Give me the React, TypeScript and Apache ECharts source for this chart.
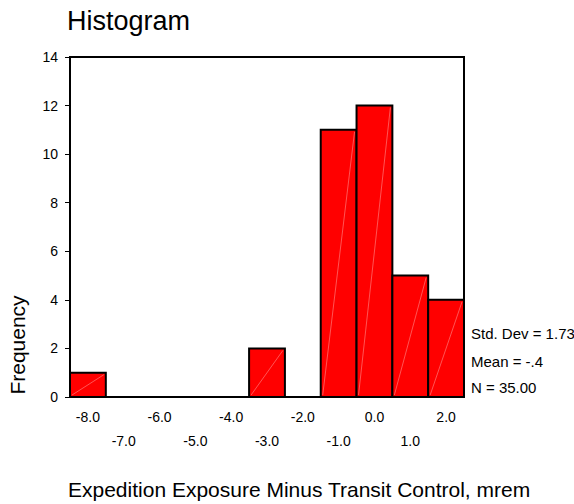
import React, { useEffect, useRef } from "react";
import * as echarts from "echarts";

const binLabels = ["-8.0", "-7.0", "-6.0", "-5.0", "-4.0", "-3.0", "-2.0", "-1.0", "0.0", "1.0", "2.0"];
const frequencies = [1, 0, 0, 0, 0, 2, 0, 11, 12, 5, 4];
const yTicks = { min: 0, max: 14, interval: 2 };
const statLines = ["Std. Dev = 1.73", "Mean = -.4", "N = 35.00"];
const titleText = "Histogram";
const xTitle = "Expedition Exposure Minus Transit Control, mrem";
const yTitle = "Frequency";

const FONT = "'Liberation Sans', Arial, sans-serif";

export default function App() {
  const ref = useRef<HTMLDivElement>(null);
  useEffect(() => {
    if (!ref.current) return;
    const chart = echarts.init(ref.current, undefined, { renderer: "svg" });
    const gl = 70, gt = 57, gw = 394, gh = 340;
    chart.setOption({
      animation: false,
      backgroundColor: "#fff",
      grid: {
        left: gl, top: gt, width: gw, height: gh,
        show: true, borderColor: "#000", borderWidth: 2, backgroundColor: "transparent",
      },
      xAxis: {
        type: "category",
        data: binLabels,
        boundaryGap: true,
        axisLine: { lineStyle: { color: "#000", width: 2 } },
        axisTick: { alignWithLabel: true, length: 5, lineStyle: { color: "#000", width: 1 } },
        axisLabel: {
          interval: 0,
          color: "#000",
          fontFamily: FONT,
          fontSize: 14,
          lineHeight: 24,
          margin: 8,
          formatter: (v: string, i: number) => (i % 2 === 1 ? "\n" + v : v),
        },
        splitLine: { show: false },
      },
      yAxis: {
        type: "value",
        min: yTicks.min,
        max: yTicks.max,
        interval: yTicks.interval,
        axisLine: { show: true, lineStyle: { color: "#000", width: 2 } },
        axisTick: { show: true, length: 5, lineStyle: { color: "#000", width: 1 } },
        axisLabel: { color: "#000", fontFamily: FONT, fontSize: 14, margin: 12 },
        splitLine: { show: false },
      },
      series: [
        {
          type: "custom",
          data: frequencies.map((f, i) => [i, f]),
          encode: { x: 0, y: 1 },
          renderItem: (params: any, api: any) => {
            const v = api.value(1);
            if (!v) return null;
            const top = api.coord([api.value(0), v]);
            const base = api.coord([api.value(0), 0]);
            const w = api.size([1, 0])[0];
            const x0 = top[0] - w / 2;
            const x1 = top[0] + w / 2;
            return {
              type: "group",
              children: [
                { type: "rect", shape: { x: x0, y: top[1], width: w, height: base[1] - top[1] }, style: { fill: "#ff0000", stroke: null } },
                { type: "line", shape: { x1: x0 + 2, y1: base[1] - 2, x2: x1 - 2, y2: top[1] + 2 }, style: { stroke: "#ffa8a8", lineWidth: 0.5 } },
                { type: "rect", shape: { x: x0, y: top[1], width: w, height: base[1] - top[1] }, style: { fill: "none", stroke: "#000", lineWidth: 2 } },
              ],
            };
          },
        },
      ],
      graphic: [
        { type: "text", left: 67, top: 7, style: { text: titleText, font: `27px ${FONT}`, fill: "#000" } },
        {
          type: "text", x: 17, y: 345, rotation: Math.PI / 2,
          style: { text: yTitle, font: `21px ${FONT}`, fill: "#000", align: "center", verticalAlign: "middle" },
        },
        {
          type: "text", x: 68, y: 489,
          style: { text: xTitle, font: `21px ${FONT}`, fill: "#000", align: "left", verticalAlign: "middle" },
        },
        ...statLines.map((t, i) => ({
          type: "text", x: 471, y: [333, 361, 387][i],
          style: { text: t, font: `15px ${FONT}`, fill: "#000", align: "left", verticalAlign: "middle" },
        })),
      ],
    });
    return () => chart.dispose();
  }, []);
  return <div ref={ref} style={{ position: "fixed", left: 0, top: 0, width: 574, height: 504 }} />;
}
